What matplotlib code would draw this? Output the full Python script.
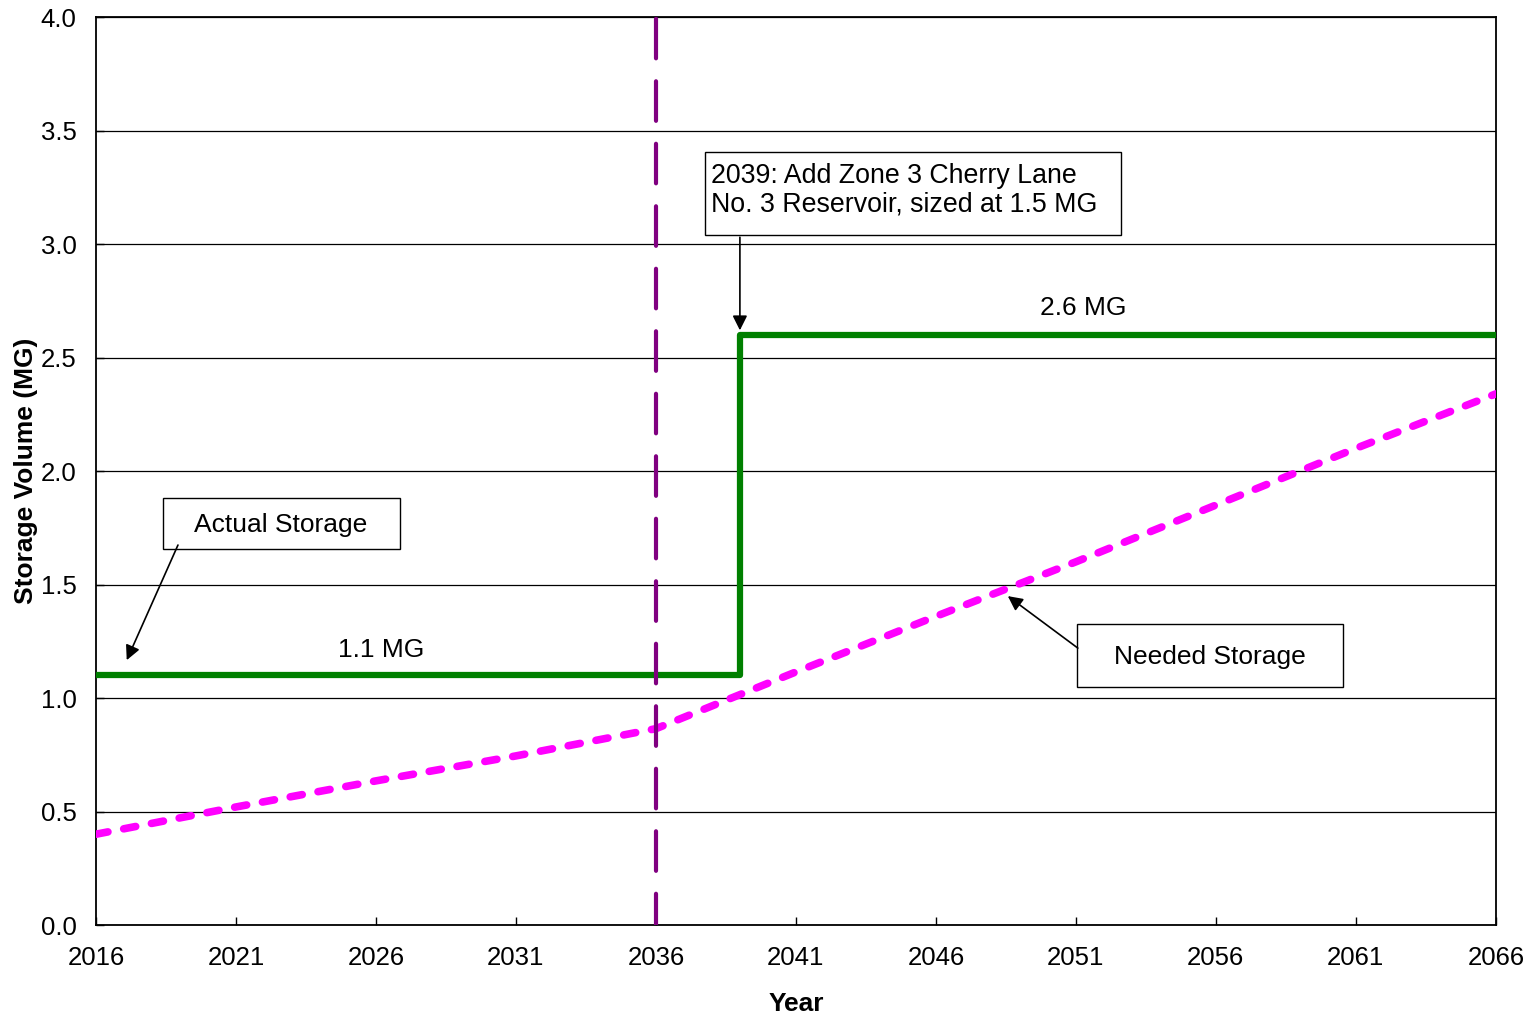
import numpy as np
import matplotlib.pyplot as plt
from matplotlib.patches import Rectangle

plt.rcParams['font.family'] = ['Liberation Sans', 'DejaVu Sans']

# data
years = [2016, 2021, 2026, 2031, 2036, 2041, 2046, 2051, 2056, 2061, 2066]
needed = [0.40, 0.52, 0.635, 0.745, 0.865, 1.115, 1.36, 1.60, 1.85, 2.10, 2.34]

actual_years = [2016, 2039, 2066]
actual = [1.1, 2.6, 2.6]

marker_year = 2036
x_ticks = list(range(2016, 2067, 5))
y_ticks = [0.0, 0.5, 1.0, 1.5, 2.0, 2.5, 3.0, 3.5, 4.0]

fig = plt.figure(figsize=(15.35, 10.21), dpi=100)
ax = fig.add_axes([0.0625, 0.094, 0.912, 0.8893])

ax.set_xlim(2016, 2066)
ax.set_ylim(0, 4)
ax.set_xticks(x_ticks)
ax.set_yticks(y_ticks)
ax.set_yticklabels(["%.1f" % v for v in y_ticks])
ax.tick_params(direction='in', length=6, width=1, labelsize=18.5, colors='black')
ax.tick_params(axis='x', pad=15)
ax.tick_params(axis='y', pad=14)
ax.grid(axis='y', color='black', lw=0.9)
ax.set_axisbelow(True)
for s in ax.spines.values():
    s.set_linewidth(1.3)
    s.set_color('black')

# needed storage
ax.plot(years, needed, color='#FF00FF', lw=5.5, linestyle=(0, (1.6, 2.1)),
        dash_capstyle='round', zorder=3)

# actual storage (step)
ax.plot(actual_years, actual, color='#008000', lw=4.5, drawstyle='steps-post',
        solid_joinstyle='round', zorder=4)

# vertical marker
ax.axvline(marker_year, color='#800080', lw=3, linestyle=(2, (9.5, 5.5)),
           dash_capstyle='round', zorder=5)

ax.set_xlabel("Year", fontsize=19, fontweight='bold')
ax.xaxis.set_label_coords(0.5, -0.074)
ax.set_ylabel("Storage Volume (MG)", fontsize=19, fontweight='bold')
ax.yaxis.set_label_coords(-0.0415, 0.5)

arrow = dict(arrowstyle='-|>', color='black', lw=1.2, mutation_scale=22,
             shrinkA=0, shrinkB=0)

# Actual Storage callout
ax.add_patch(Rectangle((2018.39, 1.656), 8.47, 0.225, fc='white', ec='black',
                       lw=1, zorder=6))
ax.text(2022.61, 1.762, "Actual Storage", ha='center', va='center',
        fontsize=19, zorder=7)
ax.annotate('', xy=(2017.1, 1.167), xytext=(2018.93, 1.674), arrowprops=arrow,
            zorder=7)

# Needed Storage callout
ax.add_patch(Rectangle((2051.04, 1.048), 9.5, 0.278, fc='white', ec='black',
                       lw=1, zorder=6))
ax.text(2055.79, 1.181, "Needed Storage", ha='center', va='center',
        fontsize=19, zorder=7)
ax.annotate('', xy=(2048.57, 1.449), xytext=(2051.07, 1.22), arrowprops=arrow,
            zorder=7)

# reservoir callout
ax.add_patch(Rectangle((2037.75, 3.040), 14.86, 0.365, fc='white', ec='black',
                       lw=1, zorder=6))
ax.text(2037.96, 3.236, "2039: Add Zone 3 Cherry Lane\nNo. 3 Reservoir, sized at 1.5 MG",
        ha='left', va='center', fontsize=19.3, linespacing=1.15, zorder=7)
ax.annotate('', xy=(2039, 2.62), xytext=(2039, 3.03), arrowprops=arrow, zorder=7)

ax.text(2026.2, 1.211, "1.1 MG", ha='center', va='center', fontsize=19)
ax.text(2051.25, 2.72, "2.6 MG", ha='center', va='center', fontsize=19)

fig.savefig("out.png", dpi=100)
